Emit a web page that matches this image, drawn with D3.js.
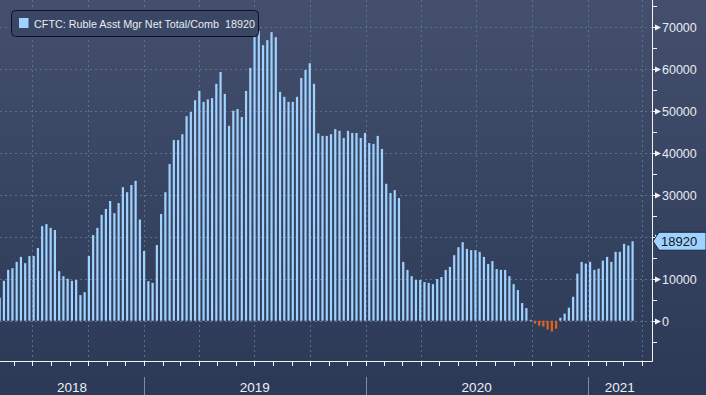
<!DOCTYPE html>
<html>
<head>
<meta charset="utf-8">
<script src="https://cdn.jsdelivr.net/npm/d3@7/dist/d3.min.js"></script>
<style>
  html, body { margin: 0; padding: 0; background: #2d3b57; }
  svg { display: block; font-family: "Liberation Sans", Arial, sans-serif; }
</style>
</head>
<body>
<svg id="chart" width="706" height="395"></svg>
<script>
// weekly CFTC reports (Tuesdays), first one shown
var firstWeek = "2018-05-08";
var seriesName = "CFTC: Ruble Asst Mgr Net Total/Comb";
var values = [
  5500, 9500, 12100, 12500, 14000, 15200, 13700, 15400, 15400, 17300,
  22500, 23000, 22100, 21600, 11800, 10600, 10000, 9500, 9700, 6100,
  6800, 15400, 20400, 22100, 25200, 26600, 28500, 25600, 28000, 31800,
  30600, 32300, 33300, 24100, 16600, 9400, 9000, 18000, 25400, 30600,
  37300, 43000, 43000, 44400, 48700, 49700, 52500, 54700, 52100, 52700,
  53000, 56400, 59200, 54000, 46400, 50000, 50400, 48500, 54700, 60200,
  67600, 69000, 65600, 66800, 68700, 67500, 54500, 53300, 52100, 52100,
  53300, 57800, 59700, 61300, 56400, 44600, 44000, 44000, 44400, 45600,
  45200, 43500, 45200, 44700, 44700, 43500, 44700, 42300, 42100, 44000,
  40900, 32600, 30400, 31100, 29200, 14000, 12100, 10600, 9700, 9700,
  9200, 9000, 8700, 9900, 10400, 12100, 12800, 15600, 17500, 18700,
  17100, 16800, 16800, 16400, 15200, 13500, 14200, 12300, 12100, 12100,
  10600, 8700, 7300, 4200, 3000, 200, -700, -1200, -1400, -2100,
  -2600, -1900, 700, 1700, 3100, 5700, 11200, 14000, 13600, 14000,
  12100, 12400, 14300, 15200, 14000, 16400, 16400, 18300, 17900, 18920
];
var yTicks = [0, 10000, 20000, 30000, 40000, 50000, 60000, 70000];
var yMinorTicks = [-5000, 5000, 15000, 25000, 35000, 45000, 55000, 65000, 75000];
var yearLabels = ["2018", "2019", "2020", "2021"];

var W = 706, H = 395;
var plotRight = 652, plotBottom = 361;
var parse = d3.utcParse("%Y-%m-%d");
var start = parse(firstWeek);
var data = values.map(function(v, i){
  return { date: d3.utcDay.offset(start, 7 * i), value: v };
});

var svg = d3.select("#chart");

var grad = svg.append("defs").append("linearGradient")
  .attr("id", "bg").attr("x1", 0).attr("y1", 0).attr("x2", 0).attr("y2", 1);
grad.append("stop").attr("offset", "0%").attr("stop-color", "#434f6d");
grad.append("stop").attr("offset", "100%").attr("stop-color", "#2b3956");
svg.append("rect").attr("width", W).attr("height", H).attr("fill", "url(#bg)");

var x = d3.scaleUtc()
  .domain([new Date(Date.UTC(2018, 4, 8, 12)), new Date(Date.UTC(2021, 3, 17))])
  .range([0, plotRight]);
var y = d3.scaleLinear().domain([0, 70000]).range([320.7, 26.7]);

// grid
var grid = svg.append("g").attr("stroke", "#5b6f8e").attr("stroke-dasharray", "2,3").attr("stroke-width", 1);
grid.selectAll("line.h").data(yTicks).enter().append("line")
  .attr("x1", 0).attr("x2", plotRight)
  .attr("y1", function(d){ return Math.round(y(d)) + 0.5; })
  .attr("y2", function(d){ return Math.round(y(d)) + 0.5; });
grid.selectAll("line.v").data(x.ticks(d3.utcMonth.every(3))).enter().append("line")
  .attr("y1", 0).attr("y2", plotBottom)
  .attr("x1", function(d){ return Math.round(x(d)) + 0.5; })
  .attr("x2", function(d){ return Math.round(x(d)) + 0.5; });

// bars
svg.append("g").selectAll("rect").data(data).enter().append("rect")
  .attr("x", function(d){ return x(d.date) - 1.1; })
  .attr("width", 2.2)
  .attr("y", function(d){ return d.value >= 0 ? y(d.value) : y(0); })
  .attr("height", function(d){ return Math.max(0.8, Math.abs(y(d.value) - y(0))); })
  .attr("fill", function(d){ return d.value >= 0 ? "#a0d2ff" : "#e2621f"; });

// axes
var axis = svg.append("g").attr("stroke", "#f2f2f2").attr("fill", "none");
axis.append("path").attr("d", "M" + (plotRight + 0.5) + ",0V" + (plotBottom + 0.5) + "H0");
axis.selectAll("line.m").data(x.ticks(d3.utcMonth.every(1))).enter().append("line")
  .attr("x1", function(d){ return Math.round(x(d)) + 0.5; })
  .attr("x2", function(d){ return Math.round(x(d)) + 0.5; })
  .attr("y1", plotBottom).attr("y2", plotBottom + 5);
axis.selectAll("line.minor").data(yMinorTicks).enter().append("line")
  .attr("x1", plotRight).attr("x2", plotRight + 5)
  .attr("y1", function(d){ return Math.round(y(d)) + 0.5; })
  .attr("y2", function(d){ return Math.round(y(d)) + 0.5; });

var last = data[data.length - 1];
var ly = y(last.value);

var major = svg.append("g").selectAll("g").data(yTicks).enter().append("g")
  .attr("transform", function(d){ return "translate(" + plotRight + "," + (Math.round(y(d)) + 0.5) + ")"; });
major.append("path").attr("d", "M0,0H4").attr("stroke", "#f2f2f2");
major.append("path").attr("d", "M3,-3L9,0L3,3Z").attr("fill", "#f2f2f2");
// the label under the last-value tag is hidden by it
major.filter(function(d){ return Math.abs(y(d) - ly) > 12; })
  .append("text").attr("x", 10).attr("y", 4.5)
  .attr("fill", "#e8ebf0").attr("font-size", 12.5)
  .text(function(d){ return d; });

// last value tag
svg.append("path")
  .attr("d", "M" + (plotRight + 1) + "," + ly + "L659," + (ly - 9) + "H706V" + (ly + 9) + "H659Z")
  .attr("fill", "#a0d2ff").attr("stroke", "#1a2233");
svg.append("text").attr("x", 661).attr("y", ly + 5)
  .attr("fill", "#101820").attr("font-size", 13)
  .text(last.value);

// year band
var years = x.ticks(d3.utcYear.every(1));
svg.append("g").selectAll("line").data(years).enter().append("line")
  .attr("x1", function(d){ return Math.round(x(d)) + 0.5; })
  .attr("x2", function(d){ return Math.round(x(d)) + 0.5; })
  .attr("y1", 377).attr("y2", H).attr("stroke", "#7f8ca3");
var bounds = [0].concat(years.map(x)).concat([plotRight]);
svg.append("g").selectAll("text").data(yearLabels).enter().append("text")
  .attr("x", function(d, i){ return (bounds[i] + bounds[i + 1]) / 2; })
  .attr("y", 392).attr("text-anchor", "middle")
  .attr("fill", "#eef0f4").attr("font-size", 13.5)
  .text(function(d){ return d; });

// legend
var lg = svg.append("g");
lg.append("rect").attr("x", 11.5).attr("y", 10.5).attr("width", 247).attr("height", 26).attr("rx", 4)
  .attr("fill", "#3a4764").attr("stroke", "#0d1220");
lg.append("rect").attr("x", 19).attr("y", 18).attr("width", 9.5).attr("height", 10).attr("fill", "#a0d2ff");
lg.append("text").attr("x", 34).attr("y", 27.5)
  .attr("fill", "#e8ebf0").attr("font-size", 11.5)
  .attr("textLength", 221).attr("lengthAdjust", "spacingAndGlyphs")
  .style("white-space", "pre")
  .text(seriesName + "  " + last.value);
</script>
</body>
</html>
